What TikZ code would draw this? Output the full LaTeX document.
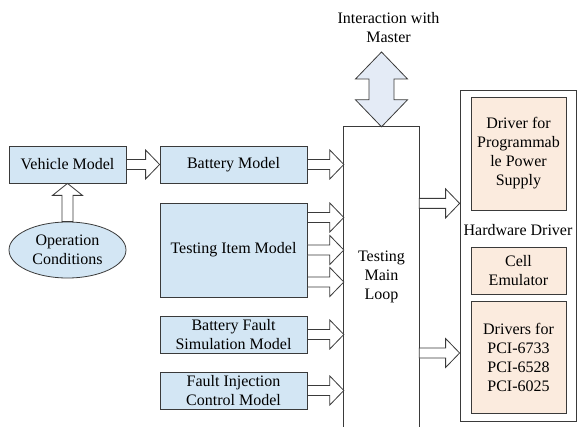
\documentclass[tikz,border=0pt]{standalone}
\usepackage{fontspec}
\setmainfont{Liberation Serif}
\usetikzlibrary{shapes.geometric,calc}
\definecolor{boxblue}{HTML}{D3E6F4}
\definecolor{boxpeach}{HTML}{FBEBDE}
\definecolor{arrblue}{HTML}{E4EBF6}
\definecolor{edgecol}{HTML}{3A3A3A}
\tikzset{
 every node/.style={font=\fontsize{16}{19}\selectfont, align=center, inner sep=0pt},
 model/.style={draw=edgecol, fill=boxblue, line width=0.8pt},
 hwbox/.style={draw=edgecol, fill=boxpeach, line width=0.8pt},
 outerbox/.style={draw=edgecol, fill=white, line width=0.8pt},
 barrow/.style={draw=edgecol, fill=white, line width=0.8pt, line join=miter},
 darrow/.style={draw=edgecol, fill=arrblue, line width=0.8pt, line join=miter},
}
% horizontal block arrow: y from first point, x from both
\newcommand\harrow[2]{\draw[barrow] let \p1=#1, \p2=#2 in
 (\x1,\y1+5pt) -- (\x2-14pt,\y1+5pt) -- (\x2-14pt,\y1+14.5pt) -- (\x2,\y1)
 -- (\x2-14pt,\y1-14.5pt) -- (\x2-14pt,\y1-5pt) -- (\x1,\y1-5pt) -- cycle;}
\begin{document}
\begin{tikzpicture}[x=1pt,y=-1pt]
\useasboundingbox (0,0) rectangle (577,427);

% left models
\node[model, minimum width=117pt, minimum height=37pt] (veh) at (67.5,164.5) {Vehicle Model};
\node[model, ellipse, minimum width=117pt, minimum height=56pt] (op) at (67.5,250) {Operation\\Conditions};
\node[model, minimum width=147pt, minimum height=37pt] (bat) at (233.5,164.5) {Battery Model};
\node[model, minimum width=147pt, minimum height=94pt] (tim) at (233.5,250) {Testing Item Model};
\node[model, minimum width=147pt, minimum height=37pt] (bfs) at (233.5,334.5) {Battery Fault\\Simulation Model};
\node[model, minimum width=147pt, minimum height=37pt] (fic) at (233.5,390.5) {Fault Injection\\Control Model};

% main loop (open at bottom)
\node[minimum width=75pt, minimum height=300pt] (loop) at (381.5,277) {Testing\\Main\\Loop};
\draw[edgecol, line width=0.8pt] (loop.south west) -- (loop.north west) -- (loop.north east) -- (loop.south east);

% hardware driver
\node[outerbox, minimum width=116pt, minimum height=331pt] (hw) at (518,255.5) {};
\node[hwbox, minimum width=95pt, minimum height=113pt] (prog) at (518.5,153.5) {Driver for\\Programmab\\le Power\\Supply};
\node (hwlabel) at (518,230) {Hardware Driver};
\node[hwbox, minimum width=95pt, minimum height=47pt] (cell) at (518.5,270.5) {Cell\\Emulator};
\node[hwbox, minimum width=95pt, minimum height=112pt] (pci) at (518.5,357) {Drivers for\\PCI-6733\\PCI-6528\\PCI-6025};

% interaction
\node (inter) at (388.5,27.5) {Interaction with\\Master};
\coordinate (dtop) at (381.5,52);
\draw[darrow] let \p1=(dtop), \p2=(loop.north) in
 (\x1,\y1) -- (\x1+26pt,\y1-27pt) -- (\x1+12.5pt,\y1-27pt) -- (\x1+12.5pt,\y2+27pt)
 -- (\x1+26pt,\y2+27pt) -- (\x2,\y2) -- (\x1-26pt,\y2+27pt) -- (\x1-12.5pt,\y2+27pt)
 -- (\x1-12.5pt,\y1-27pt) -- (\x1-26pt,\y1-27pt) -- cycle;

% up arrow from conditions to vehicle
\draw[barrow] let \p1=(op.north), \p2=(veh.south) in
 (\x1-5.5pt,\y1) -- (\x1-5.5pt,\y2-12pt) -- (\x1-15pt,\y2-12pt) -- (\x2,\y2)
 -- (\x1+15pt,\y2-12pt) -- (\x1+5.5pt,\y2-12pt) -- (\x1+5.5pt,\y1) -- cycle;

% horizontal arrows
\harrow{(veh.east)}{(bat.west)}
\harrow{(bat.east)}{(loop.west)}
\harrow{($(tim.east)+(0,-32.5)$)}{(loop.west)}
\harrow{(tim.east)}{(loop.west)}
\harrow{($(tim.east)+(0,32)$)}{(loop.west)}
\harrow{(bfs.east)}{(loop.west)}
\harrow{(fic.east)}{(loop.west)}
\harrow{($(loop.east|-prog.south)+(0,-7)$)}{(hw.west)}
\harrow{($(loop.east|-pci.center)+(0,-4)$)}{(hw.west)}
\end{tikzpicture}
\end{document}
